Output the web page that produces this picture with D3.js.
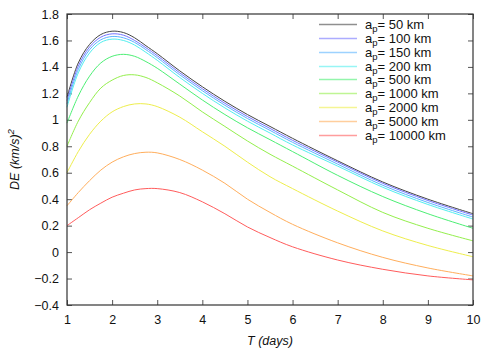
<!DOCTYPE html>
<html>
<head>
<meta charset="utf-8">
<script src="https://cdn.jsdelivr.net/npm/d3@7"></script>
<style>
  body { margin: 0; background: #fff; }
  svg { font-family: "Liberation Sans", Arial, sans-serif; }
</style>
</head>
<body>
<div id="chart"></div>
<script>
// T (days) sample points
const days = [1, 1.25, 1.5, 1.75, 2, 2.25, 2.5, 2.75, 3, 3.5, 4, 4.5, 5, 5.5, 6, 7, 8, 9, 10]

// DE (km/s)^2 for each a_p
const de50 = [1.17, 1.43, 1.57, 1.645, 1.67, 1.66, 1.62, 1.56, 1.50, 1.37, 1.25, 1.14, 1.04, 0.95, 0.86, 0.69, 0.53, 0.40, 0.29]
const de100 = [1.145, 1.405, 1.55, 1.625, 1.65, 1.64, 1.60, 1.545, 1.485, 1.355, 1.235, 1.125, 1.025, 0.935, 0.845, 0.68, 0.52, 0.39, 0.28]
const de150 = [1.12, 1.38, 1.53, 1.605, 1.63, 1.62, 1.585, 1.53, 1.47, 1.34, 1.22, 1.11, 1.01, 0.92, 0.83, 0.665, 0.505, 0.375, 0.265]
const de200 = [1.095, 1.355, 1.505, 1.585, 1.61, 1.60, 1.565, 1.51, 1.45, 1.32, 1.20, 1.09, 0.99, 0.90, 0.81, 0.65, 0.49, 0.36, 0.25]
const de500 = [0.975, 1.18, 1.33, 1.43, 1.48, 1.495, 1.48, 1.44, 1.39, 1.27, 1.15, 1.04, 0.94, 0.85, 0.76, 0.58, 0.42, 0.29, 0.18]
const de1000 = [0.80, 0.99, 1.13, 1.24, 1.30, 1.335, 1.34, 1.32, 1.28, 1.18, 1.06, 0.95, 0.84, 0.74, 0.65, 0.47, 0.30, 0.18, 0.085]
const de2000 = [0.60, 0.76, 0.89, 0.99, 1.06, 1.10, 1.12, 1.12, 1.10, 1.02, 0.91, 0.80, 0.68, 0.57, 0.48, 0.31, 0.16, 0.05, -0.035]
const de5000 = [0.35, 0.45, 0.54, 0.62, 0.68, 0.72, 0.745, 0.755, 0.75, 0.70, 0.62, 0.52, 0.40, 0.30, 0.21, 0.07, -0.04, -0.12, -0.18]
const de10000 = [0.20, 0.26, 0.32, 0.37, 0.415, 0.445, 0.47, 0.48, 0.48, 0.45, 0.38, 0.29, 0.19, 0.11, 0.04, -0.06, -0.13, -0.18, -0.21]

const apLabels = ['50 km', '100 km', '150 km', '200 km', '500 km', '1000 km', '2000 km', '5000 km', '10000 km']
const colors = ['#444444', '#7474ff', '#5cb4ff', '#52eeee', '#4cef74', '#94ef4c', '#eeee4c', '#ffae5c', '#ff5c5c']

const xTicks = [1, 2, 3, 4, 5, 6, 7, 8, 9, 10]
const yTicks = [-0.4, -0.2, 0, 0.2, 0.4, 0.6, 0.8, 1, 1.2, 1.4, 1.6, 1.8]

const series = [de50, de100, de150, de200, de500, de1000, de2000, de5000, de10000]
  .map((values, i) => ({
    label: apLabels[i],
    color: colors[i],
    points: values.map((v, j) => ({ t: days[j], v }))
  }))

const width = 498
const height = 349
const margin = { top: 14, right: 25, bottom: 44, left: 67 }
const innerW = width - margin.left - margin.right
const innerH = height - margin.top - margin.bottom

const svg = d3.select('#chart')
  .append('svg')
  .attr('width', width)
  .attr('height', height)

const g = svg.append('g')
  .attr('transform', `translate(${margin.left}, ${margin.top})`)

const x = d3.scaleLinear().domain([1, 10]).range([0, innerW])
const y = d3.scaleLinear().domain([-0.4, 1.8]).range([innerH, 0])

const fmt = d => {
  const s = d3.format('.1f')(d).replace(/\.0$/, '')
  return s.replace('-', '\u2212')
}

// axes with inward ticks, mirrored on top and right
const styleAxis = sel => {
  sel.select('.domain').remove()
  sel.selectAll('.tick line').attr('stroke', '#555')
  sel.selectAll('.tick text').attr('fill', '#111').style('font-size', '12.5px')
}

g.append('g')
  .attr('transform', `translate(0, ${innerH})`)
  .call(d3.axisBottom(x).tickValues(xTicks).tickSize(-5).tickPadding(10).tickFormat(d3.format('d')))
  .call(styleAxis)

g.append('g')
  .call(d3.axisTop(x).tickValues(xTicks).tickSize(-5).tickFormat(''))
  .call(styleAxis)

g.append('g')
  .call(d3.axisLeft(y).tickValues(yTicks).tickSize(-5).tickPadding(8).tickFormat(fmt))
  .call(styleAxis)

g.append('g')
  .attr('transform', `translate(${innerW}, 0)`)
  .call(d3.axisRight(y).tickValues(yTicks).tickSize(-5).tickFormat(''))
  .call(styleAxis)

const line = d3.line()
  .x(d => x(d.t))
  .y(d => y(d.v))
  .curve(d3.curveCatmullRom.alpha(0.5))

g.append('g')
  .selectAll('path')
  .data(series)
  .join('path')
  .attr('fill', 'none')
  .attr('stroke', d => d.color)
  .attr('stroke-width', 1)
  .attr('d', d => line(d.points))

// frame
g.append('rect')
  .attr('width', innerW)
  .attr('height', innerH)
  .attr('fill', 'none')
  .attr('stroke', '#333')
  .attr('stroke-width', 1.2)

// legend
const legend = svg.append('g')
  .selectAll('g')
  .data(series)
  .join('g')
  .attr('transform', (d, i) => `translate(319, ${Math.round(24 + i * 13.85) + 0.5})`)

legend.append('line')
  .attr('x1', 0)
  .attr('x2', 38)
  .attr('stroke', d => d.color)
  .attr('stroke-opacity', 0.6)
  .attr('stroke-width', 1.5)

const legendText = legend.append('text')
  .attr('x', 46)
  .attr('y', 4.5)
  .attr('fill', '#111')
  .style('font-size', '13px')

legendText.append('tspan').text('a')
legendText.append('tspan')
  .attr('dy', 3)
  .style('font-size', '9.5px')
  .text('p')
legendText.append('tspan')
  .attr('dy', -3)
  .text(d => '= ' + d.label)

// axis titles
svg.append('text')
  .attr('x', margin.left + innerW / 2)
  .attr('y', 345)
  .attr('text-anchor', 'middle')
  .attr('fill', '#111')
  .style('font-size', '12.5px')
  .style('font-style', 'italic')
  .text('T (days)')

const yTitle = svg.append('text')
  .attr('transform', `translate(19, ${margin.top + innerH / 2}) rotate(-90)`)
  .attr('text-anchor', 'middle')
  .attr('fill', '#111')
  .style('font-size', '12.5px')
  .style('font-style', 'italic')

yTitle.append('tspan').text('DE (km/s)')
yTitle.append('tspan')
  .attr('dy', -5)
  .style('font-size', '9.5px')
  .text('2')
</script>
</body>
</html>
